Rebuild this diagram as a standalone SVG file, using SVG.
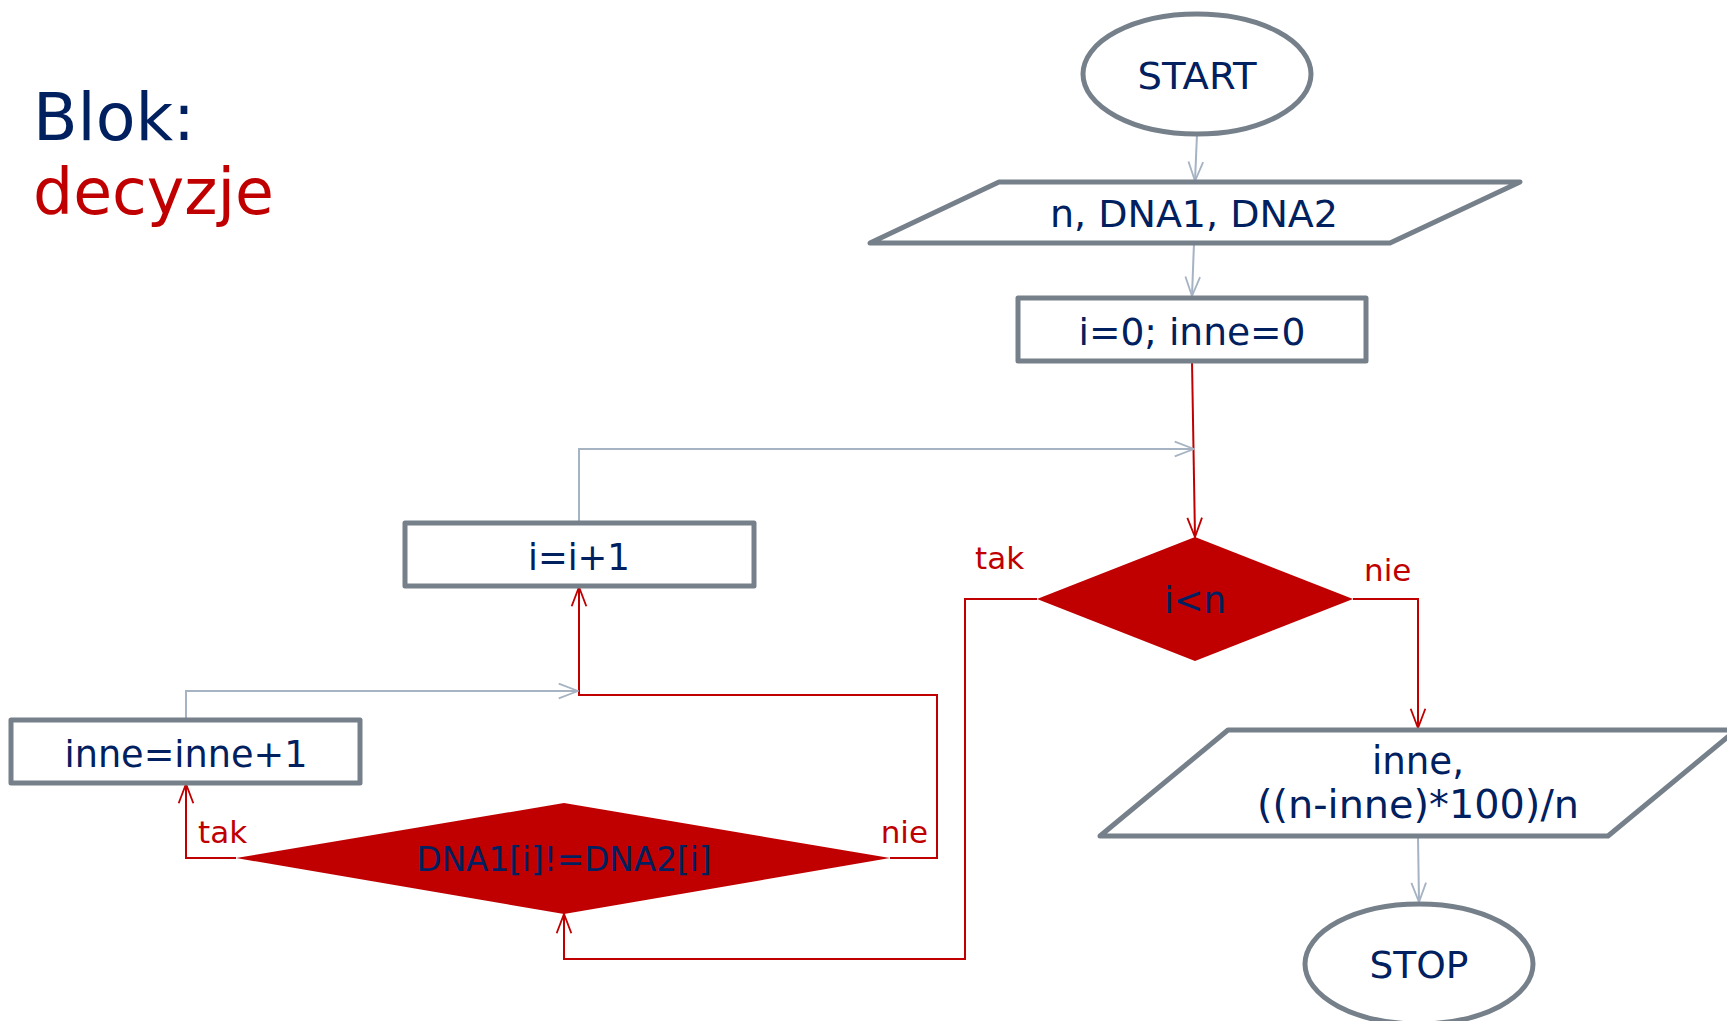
<svg xmlns="http://www.w3.org/2000/svg" width="1727" height="1021" viewBox="0 0 1727 1021">
<style>
.shape{fill:#ffffff;stroke:#76808a;stroke-width:5;stroke-linejoin:round}
.dec{fill:#c00000;stroke:none}
.t{font-family:"DejaVu Sans","Verdana",sans-serif;fill:#002060;text-anchor:middle}
.lbl{font-family:"DejaVu Sans","Verdana",sans-serif;fill:#c00000;font-size:31px}
.cg{fill:none;stroke:#a5b3c3;stroke-width:2}
.cr{fill:none;stroke:#c00000;stroke-width:2}
</style>
<defs>
<marker id="ag" viewBox="0 0 24 24" refX="23" refY="12" markerWidth="22" markerHeight="22" markerUnits="userSpaceOnUse" orient="auto">
<path d="M2,4 L23,12 L2,20" fill="none" stroke="#a5b3c3" stroke-width="2"/>
</marker>
<marker id="ar" viewBox="0 0 24 24" refX="23" refY="12" markerWidth="22" markerHeight="22" markerUnits="userSpaceOnUse" orient="auto">
<path d="M2,4 L23,12 L2,20" fill="none" stroke="#c00000" stroke-width="2"/>
</marker>
</defs>
<rect width="1727" height="1021" fill="#ffffff"/>
<g id="title">
<text x="33" y="140" font-family="DejaVu Sans, Verdana, sans-serif" font-size="65" fill="#002060">Blok:</text>
<text x="33" y="214" font-family="DejaVu Sans, Verdana, sans-serif" font-size="64" fill="#c00000" textLength="241" lengthAdjust="spacingAndGlyphs">decyzje</text>
</g>
<g id="connectors">
<path class="cg" d="M1197,134 L1195,181" marker-end="url(#ag)"/>
<path class="cg" d="M1194,243 L1192,296" marker-end="url(#ag)"/>
<path class="cr" d="M1192,361 L1195,537" marker-end="url(#ar)"/>
<path class="cg" d="M579,523 L579,449 L1194,449" marker-end="url(#ag)"/>
<path class="cr" d="M1037,599 L965,599 L965,959 L564,959 L564,914" marker-end="url(#ar)"/>
<path class="cr" d="M1353,599 L1418,599 L1418,728" marker-end="url(#ar)"/>
<path class="cg" d="M1418,836 L1419,902" marker-end="url(#ag)"/>
<path class="cr" d="M890,858 L937,858 L937,695 L579,695 L579,587" marker-end="url(#ar)"/>
<path class="cg" d="M186,720 L186,691 L578,691" marker-end="url(#ag)"/>
<path class="cr" d="M236,858 L186,858 L186,784" marker-end="url(#ar)"/>
</g>
<g id="start">
<ellipse class="shape" cx="1197" cy="74" rx="114" ry="60"/>
<text class="t" x="1197" y="89" font-size="38" textLength="119" lengthAdjust="spacingAndGlyphs">START</text>
</g>
<g id="input">
<polygon class="shape" points="999,182 1520,182 1390,243 870,243"/>
<text class="t" x="1194" y="227" font-size="38" textLength="288" lengthAdjust="spacingAndGlyphs">n, DNA1, DNA2</text>
</g>
<g id="init">
<rect class="shape" x="1018" y="298" width="348" height="63"/>
<text class="t" x="1192" y="345" font-size="38" textLength="227" lengthAdjust="spacingAndGlyphs">i=0; inne=0</text>
</g>
<g id="cond1">
<polygon class="dec" points="1195,537 1353,599 1195,661 1037,599"/>
<text class="t" x="1195" y="613" font-size="38" textLength="62" lengthAdjust="spacingAndGlyphs">i&lt;n</text>
</g>
<text class="lbl" x="975" y="569">tak</text>
<text class="lbl" x="1364" y="581">nie</text>
<g id="incr">
<rect class="shape" x="405" y="523" width="349" height="63"/>
<text class="t" x="579" y="570" font-size="38" textLength="102" lengthAdjust="spacingAndGlyphs">i=i+1</text>
</g>
<g id="count">
<rect class="shape" x="11" y="720" width="349" height="63"/>
<text class="t" x="186" y="767" font-size="38" textLength="243" lengthAdjust="spacingAndGlyphs">inne=inne+1</text>
</g>
<g id="cond2">
<polygon class="dec" points="564,803 890,858 564,914 236,858"/>
<text class="t" x="564" y="871" font-size="33" textLength="295" lengthAdjust="spacingAndGlyphs">DNA1[i]!=DNA2[i]</text>
</g>
<text class="lbl" x="198" y="843">tak</text>
<text class="lbl" x="928" y="843" text-anchor="end">nie</text>
<g id="output">
<polygon class="shape" points="1228,730 1736,730 1608,836 1100,836"/>
<text class="t" x="1418" y="774" font-size="39" textLength="92" lengthAdjust="spacingAndGlyphs">inne,</text>
<text class="t" x="1418" y="818" font-size="39" textLength="322" lengthAdjust="spacingAndGlyphs">((n-inne)*100)/n</text>
</g>
<g id="stop">
<ellipse class="shape" cx="1419" cy="964" rx="114" ry="60"/>
<text class="t" x="1419" y="978" font-size="38" textLength="99" lengthAdjust="spacingAndGlyphs">STOP</text>
</g>
</svg>
